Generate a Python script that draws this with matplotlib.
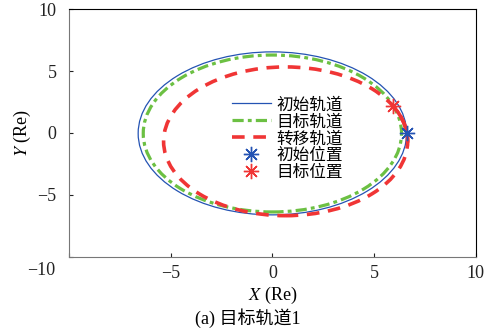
import matplotlib
matplotlib.use("Agg")
from matplotlib import pyplot as plt
from matplotlib.patches import Ellipse, Arc
from matplotlib.lines import Line2D

plt.rcParams['font.family'] = ['Liberation Serif', 'Noto Sans CJK SC']
plt.rcParams['mathtext.fontset'] = 'stix'

# orbit shapes: centre x, centre y, width, height (Re)
initial_orbit = [0.0, -0.03, 13.2, 13.15]
target_orbit = [0.0, -0.04, 12.7, 12.66]
transfer_orbit = [0.65, -0.67, 12.0, 12.0]
transfer_arc_deg = [-1, 28]

start_pos = [6.6, 0.0]
target_pos = [5.93, 2.18]

labels = ['初始轨道', '目标轨道', '转移轨道', '初始位置', '目标位置']
ticks = [-10, -5, 0, 5, 10]
tick_text = ['', '\u22125', '0', '5', '10']

blue = '#2453b3'
green = '#6cc043'
red = '#f03535'
cjk = ['Noto Sans CJK SC', 'DejaVu Sans']

fig = plt.figure(figsize=(4.86, 3.35), dpi=100)
ax = fig.add_axes([0.142, 0.233, 0.837, 0.740])

ax.add_patch(Ellipse(initial_orbit[:2], initial_orbit[2], initial_orbit[3],
                     fill=False, color=blue, lw=0.9))
ax.add_patch(Ellipse(target_orbit[:2], target_orbit[2], target_orbit[3],
                     fill=False, color=green, lw=2.3, linestyle=(0, (3.5, 1.3, 1.2, 1.3))))
ax.add_patch(Ellipse(transfer_orbit[:2], transfer_orbit[2], transfer_orbit[3],
                     fill=False, color=red, lw=2.6, linestyle=(0, (3.5, 2.4))))
ax.add_patch(Arc(transfer_orbit[:2], transfer_orbit[2], transfer_orbit[3],
                 theta1=transfer_arc_deg[0], theta2=transfer_arc_deg[1], color=red, lw=2.6))

ast = (8, 2, 0)
ax.plot(start_pos[0], start_pos[1], marker=ast, color=blue, ms=11, mew=1.0, ls='none', zorder=5)
ax.plot(target_pos[0], target_pos[1], marker=ast, color=red, ms=11, mew=1.0, ls='none', zorder=5)

handles = [
    Line2D([], [], color=blue, lw=0.9),
    Line2D([], [], color=green, lw=2.3, linestyle=(0, (3.5, 1.3, 1.2, 1.3))),
    Line2D([], [], color=red, lw=2.6, linestyle=(0, (3.5, 2.4))),
    Line2D([], [], color=blue, marker=ast, ms=11, mew=1.0, ls='none'),
    Line2D([], [], color=red, marker=ast, ms=11, mew=1.0, ls='none'),
]
ax.legend(handles, labels, loc='upper left', bbox_to_anchor=(0.40, 0.648),
          frameon=False, borderpad=0, borderaxespad=0, handlelength=2.35,
          handletextpad=0.3, labelspacing=0.0,
          prop={'family': cjk, 'size': 12})

ax.set_xlim(-10, 10)
ax.set_ylim(-10, 10)
ax.set_xticks(ticks, tick_text)
ax.set_yticks(ticks, tick_text)
ax.tick_params(direction='in', length=3, labelsize=13, colors='#222222', top=False, right=False)
ax.tick_params(axis='x', pad=6)
ax.tick_params(axis='y', pad=9)
# the shared corner label sits below the axes corner, as in the reference
ax.text(-0.034, -0.056, '\u221210', transform=ax.transAxes, ha='right', va='center',
        fontsize=13, color='#222222')
ax.set_xlabel('$X$ (Re)', fontsize=13, labelpad=2)
ax.set_ylabel('$Y$ (Re)', fontsize=13, labelpad=3)
for side in ['left', 'bottom']:
    ax.spines[side].set_color('#777777')
for side in ['top', 'right']:
    ax.spines[side].set_color('black')
for s in ax.spines.values():
    s.set_linewidth(0.8)

fig.text(0.51, 0.05, '(a) 目标轨道1', ha='center', va='center', fontsize=13,
         family=['Liberation Serif', 'Noto Sans CJK SC'])

fig.savefig('out.png', dpi=100)
